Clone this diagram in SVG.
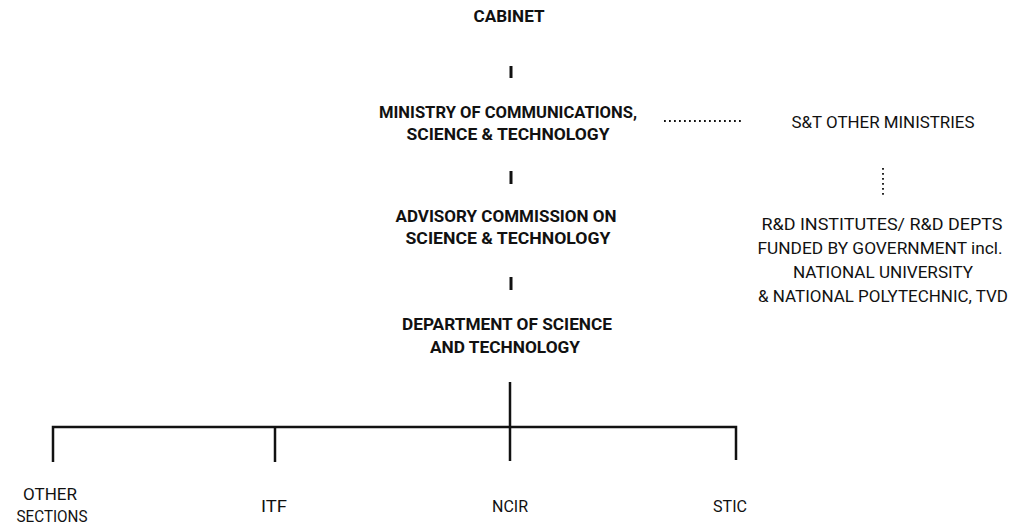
<svg xmlns="http://www.w3.org/2000/svg" width="1015" height="527" viewBox="0 0 1015 527">
  <style>
    text { font-family: Roboto, "DejaVu Sans", sans-serif; fill: #111; text-anchor: middle; }
    .b { font-size: 16.5px; font-weight: bold; }
    .r { font-size: 16px; font-weight: normal; }
    .ln { stroke: #111; stroke-width: 2.5; fill: none; }
    .tick { stroke: #111; stroke-width: 3; }
    .dot { stroke: #111; stroke-width: 1.8; stroke-dasharray: 1.8 3.2; fill: none; }
  </style>
  <rect width="1015" height="527" fill="#fff"/>

  <g id="connectors">
    <line class="tick" x1="511" y1="66" x2="511" y2="78"/>
    <line class="tick" x1="511" y1="171" x2="511" y2="184"/>
    <line class="tick" x1="511" y1="277" x2="511" y2="290"/>
    <line class="ln" x1="510" y1="382" x2="510" y2="461"/>
    <polyline class="ln" points="53,462 53,427 736,427 736,460"/>
    <line class="ln" x1="275" y1="427" x2="275" y2="462"/>
    <line class="dot" x1="664" y1="121" x2="741" y2="121"/>
    <line class="dot" x1="883" y1="168" x2="883" y2="196"/>
  </g>

  <g id="cabinet">
    <text class="b" x="509" y="22" textLength="71" lengthAdjust="spacingAndGlyphs">CABINET</text>
  </g>
  <g id="ministry">
    <text class="b" x="508" y="118" textLength="258" lengthAdjust="spacingAndGlyphs">MINISTRY OF COMMUNICATIONS,</text>
    <text class="b" x="508" y="140" textLength="203" lengthAdjust="spacingAndGlyphs">SCIENCE &amp; TECHNOLOGY</text>
  </g>
  <g id="advisory">
    <text class="b" x="506" y="222" textLength="221" lengthAdjust="spacingAndGlyphs">ADVISORY COMMISSION ON</text>
    <text class="b" x="508" y="244" textLength="205" lengthAdjust="spacingAndGlyphs">SCIENCE &amp; TECHNOLOGY</text>
  </g>
  <g id="department">
    <text class="b" x="507" y="330" textLength="210" lengthAdjust="spacingAndGlyphs">DEPARTMENT OF SCIENCE</text>
    <text class="b" x="505" y="353" textLength="150" lengthAdjust="spacingAndGlyphs">AND TECHNOLOGY</text>
  </g>
  <g id="other-ministries">
    <text class="r" x="883" y="128" textLength="183" lengthAdjust="spacingAndGlyphs">S&amp;T OTHER MINISTRIES</text>
  </g>
  <g id="rd-institutes">
    <text class="r" x="882" y="230" textLength="241" lengthAdjust="spacingAndGlyphs">R&amp;D INSTITUTES/ R&amp;D DEPTS</text>
    <text class="r" x="880" y="254" textLength="245" lengthAdjust="spacingAndGlyphs">FUNDED BY GOVERNMENT incl.</text>
    <text class="r" x="883" y="278" textLength="180" lengthAdjust="spacingAndGlyphs">NATIONAL UNIVERSITY</text>
    <text class="r" x="883" y="302" textLength="250" lengthAdjust="spacingAndGlyphs">&amp; NATIONAL POLYTECHNIC, TVD</text>
  </g>
  <g id="other-sections">
    <text class="r" x="50" y="500" textLength="54" lengthAdjust="spacingAndGlyphs">OTHER</text>
    <text class="r" x="52" y="522" textLength="71" lengthAdjust="spacingAndGlyphs">SECTIONS</text>
  </g>
  <g id="itf">
    <text class="r" x="274" y="512" textLength="26" lengthAdjust="spacingAndGlyphs">ITF</text>
  </g>
  <g id="ncir">
    <text class="r" x="510" y="512" textLength="36" lengthAdjust="spacingAndGlyphs">NCIR</text>
  </g>
  <g id="stic">
    <text class="r" x="730" y="512" textLength="34" lengthAdjust="spacingAndGlyphs">STIC</text>
  </g>
</svg>
